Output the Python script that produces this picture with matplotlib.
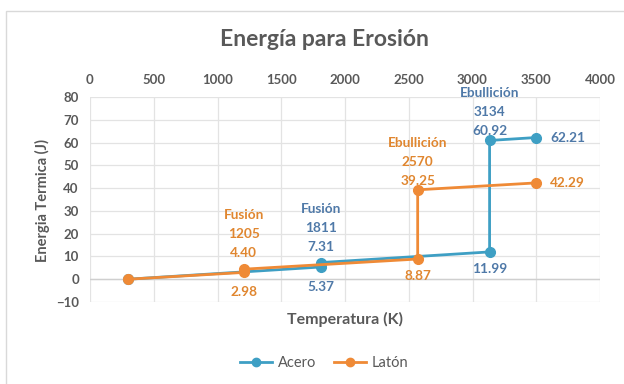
import matplotlib
matplotlib.use("Agg")
import matplotlib.pyplot as plt
from matplotlib.patches import Rectangle
from matplotlib.lines import Line2D

# Temperature (K) and thermal energy (J) per material
acero_temp = [298, 1811, 1811, 3134, 3134, 3500]
acero_energia = [0, 5.37, 7.31, 11.99, 60.92, 62.21]
laton_temp = [298, 1205, 1205, 2570, 2570, 3500]
laton_energia = [0, 2.98, 4.40, 8.87, 39.25, 42.29]

x_ticks = [0, 500, 1000, 1500, 2000, 2500, 3000, 3500, 4000]
y_ticks = [-10, 0, 10, 20, 30, 40, 50, 60, 70, 80]

AZUL = "#3e9fc4"
NARANJA = "#ef8a36"
AZUL_TXT = "#4f79a8"
NARANJA_TXT = "#e0862f"
GRIS = "#595959"

plt.rcParams["font.family"] = ["Lato", "DejaVu Sans"]

fig = plt.figure(figsize=(6.24, 3.84), dpi=100)
fig.patches.append(Rectangle((6 / 624, -0.05), 1.1, 1 - 11 / 384 + 0.05,
                             transform=fig.transFigure, fill=False,
                             edgecolor="#d9d9d9", linewidth=1.0))

ax = fig.add_axes([90 / 624, 1 - 302 / 384, 510 / 624, 205 / 384])
ax.set_xlim(0, 4000)
ax.set_ylim(-10, 80)
ax.set_xticks(x_ticks)
ax.set_yticks(y_ticks)
ax.xaxis.tick_top()
ax.tick_params(axis="both", length=0, labelsize=9.5, colors=GRIS, pad=8)
for lab in ax.get_xticklabels() + ax.get_yticklabels():
    lab.set_fontweight("bold")
ax.grid(True, color="#e3e3e3", linewidth=0.9)
ax.set_axisbelow(True)
for s in ax.spines.values():
    s.set_visible(False)
ax.axhline(0, color="#cfcfcf", linewidth=1.0, zorder=1)

ax.plot(acero_temp, acero_energia, color=AZUL, linewidth=2, marker="o",
        markersize=7, zorder=3, label="Acero")
ax.plot(laton_temp, laton_energia, color=NARANJA, linewidth=2, marker="o",
        markersize=7, zorder=3, label="Latón")

lbl = dict(fontsize=9.8, fontweight="bold", textcoords="offset pixels",
           ha="center", linespacing=1.7)

def above(x, y, name, color, gap):
    ax.annotate(f"{name}\n{x}\n{y:.2f}", (x, y), xytext=(0, gap), va="bottom",
                color=color, **lbl)

def below(x, y, color, gap):
    ax.annotate(f"{y:.2f}", (x, y), xytext=(0, -gap), va="center",
                color=color, **lbl)

def right(x, y, color):
    ax.annotate(f"{y:.2f}", (x, y), xytext=(14, 0), va="center",
                color=color, **{**lbl, "ha": "left"})

# Latón labels
below(laton_temp[1], laton_energia[1], NARANJA_TXT, 20)
above(laton_temp[2], laton_energia[2], "Fusión", NARANJA_TXT, 10)
below(laton_temp[3], laton_energia[3], NARANJA_TXT, 17)
above(laton_temp[4], laton_energia[4], "Ebullición", NARANJA_TXT, 3)
right(laton_temp[5], laton_energia[5], NARANJA_TXT)

# Acero labels
below(acero_temp[1], acero_energia[1], AZUL_TXT, 20)
above(acero_temp[2], acero_energia[2], "Fusión", AZUL_TXT, 10)
below(acero_temp[3], acero_energia[3], AZUL_TXT, 17)
above(acero_temp[4], acero_energia[4], "Ebullición", AZUL_TXT, 3)
right(acero_temp[5], acero_energia[5], AZUL_TXT)

fig.text(324 / 624, 1 - 40 / 384, "Energía para Erosión",
         ha="center", va="center", fontsize=16.5, fontweight="bold", color=GRIS)
fig.text(345 / 624, 1 - 319 / 384, "Temperatura (K)", ha="center", va="center",
         fontsize=11.5, fontweight="bold", color=GRIS)
fig.text(42 / 624, 1 - 200 / 384, "Energia Termica (J)", ha="center",
         va="center", rotation=90, fontsize=10.5, fontweight="bold", color=GRIS)

handles = [Line2D([], [], color=AZUL, linewidth=2, marker="o", markersize=6),
           Line2D([], [], color=NARANJA, linewidth=2, marker="o", markersize=6)]
fig.legend(handles, ["Acero", "Latón"], loc="center",
           bbox_to_anchor=(324 / 624, 1 - 363 / 384), ncol=2, frameon=False,
           fontsize=10.5, handlelength=2.2, columnspacing=1.2,
           handletextpad=0.4, labelcolor=GRIS)

fig.savefig("out.png", dpi=100, facecolor="white")
